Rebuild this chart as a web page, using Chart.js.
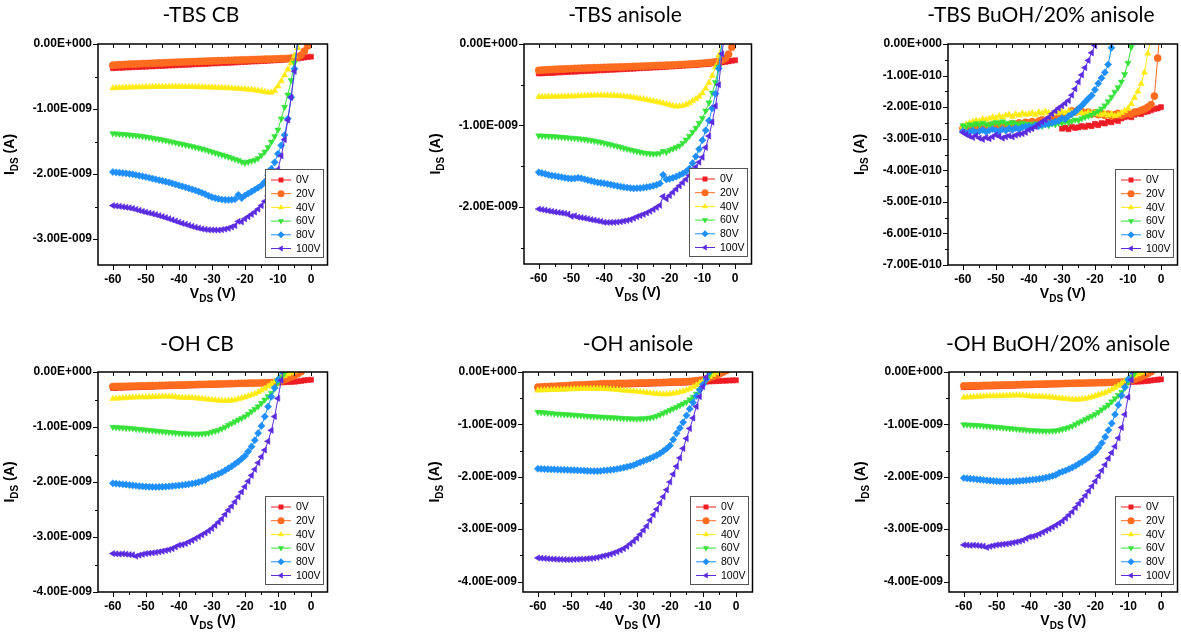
<!DOCTYPE html>
<html>
<head>
<meta charset="utf-8">
<script src="https://cdn.jsdelivr.net/npm/chart.js@4.4.1/dist/chart.umd.min.js"></script>
<style>
  html, body { margin: 0; padding: 0; background: #fff; }
  body { width: 1181px; height: 638px; position: relative; overflow: hidden; }
  canvas { position: absolute; }
</style>
</head>
<body>
<script>
// Output curves I_DS vs V_DS, one sweep per gate voltage. Currents in pA.

const vds = [
  -60, -59, -58, -57, -56, -55, -54, -53, -52, -51,
  -50, -49, -48, -47, -46, -45, -44, -43, -42, -41,
  -40, -39, -38, -37, -36, -35, -34, -33, -32, -31,
  -30, -29, -28, -27, -26, -25, -24, -23, -22, -21,
  -20, -19, -18, -17, -16, -15, -14, -13, -12, -11,
  -10, -9, -8, -7, -6, -5, -4, -3, -2, -1,
  0
];
// the 0V sweep of the BuOH/anisole TBS film starts at -30 V
const vdsFrom30 = vds.slice(30);

const gateLabels = ['0V', '20V', '40V', '60V', '80V', '100V'];

const vdsTicks = [-60, -50, -40, -30, -20, -10, 0];
const idsTicks2 = [0, -1000, -2000];
const idsTicks3 = [0, -1000, -2000, -3000];
const idsTicks4 = [0, -1000, -2000, -3000, -4000];
const idsTicksLow = [0, -100, -200, -300, -400, -500, -600, -700];

// -TBS, chlorobenzene
const tbsCb0 = [
  -372, -368, -366, -365, -361, -360, -357, -355, -353, -350,
  -348, -345, -344, -340, -338, -336, -333, -331, -330, -326,
  -324, -322, -320, -317, -315, -312, -310, -308, -306, -303,
  -300, -298, -296, -293, -291, -288, -286, -284, -281, -278,
  -276, -273, -270, -268, -265, -262, -260, -257, -254, -251,
  -248, -245, -242, -238, -235, -230, -224, -216, -208, -200,
  -195
];
const tbsCb20 = [
  -326, -322, -318, -316, -313, -311, -309, -306, -305, -302,
  -300, -298, -296, -293, -291, -290, -287, -285, -283, -281,
  -279, -277, -275, -273, -271, -270, -268, -266, -264, -262,
  -261, -259, -257, -255, -254, -252, -250, -249, -247, -245,
  -244, -242, -240, -239, -237, -236, -234, -232, -231, -229,
  -227, -225, -223, -221, -218, -212, -200, -172, -110, -30,
  60
];
const tbsCb40 = [
  -680, -676, -672, -670, -668, -667, -665, -664, -662, -662,
  -660, -660, -658, -657, -656, -656, -655, -655, -654, -655,
  -655, -656, -655, -657, -658, -659, -660, -662, -663, -665,
  -667, -669, -671, -673, -676, -678, -681, -684, -687, -691,
  -693, -698, -703, -710, -718, -727, -736, -744, -745, -720,
  -650, -570, -480, -390, -290, -180, -60, 60
];
const tbsCb60 = [
  -1376, -1380, -1385, -1388, -1392, -1398, -1402, -1408, -1412, -1420,
  -1428, -1437, -1446, -1455, -1464, -1474, -1484, -1495, -1507, -1519,
  -1530, -1541, -1552, -1563, -1575, -1588, -1600, -1613, -1626, -1643,
  -1660, -1675, -1690, -1705, -1720, -1737, -1755, -1772, -1790, -1812,
  -1830, -1812, -1800, -1785, -1760, -1711, -1660, -1590, -1505, -1420,
  -1320, -1150, -970, -780, -560, -290, 20
];
const tbsCb80 = [
  -1969, -1975, -1980, -1986, -1990, -1998, -2005, -2015, -2025, -2035,
  -2046, -2058, -2070, -2082, -2095, -2105, -2118, -2130, -2145, -2160,
  -2175, -2190, -2205, -2220, -2237, -2253, -2270, -2290, -2310, -2335,
  -2356, -2370, -2383, -2392, -2397, -2398, -2396, -2388, -2320, -2372,
  -2330, -2300, -2270, -2240, -2210, -2175, -2120, -2020, -1920, -1820,
  -1690, -1560, -1400, -1150, -820, -380, 40
];
const tbsCb100 = [
  -2485, -2492, -2498, -2505, -2512, -2520, -2530, -2545, -2560, -2574,
  -2588, -2600, -2612, -2625, -2640, -2655, -2670, -2688, -2705, -2724,
  -2742, -2758, -2773, -2790, -2805, -2820, -2832, -2845, -2853, -2858,
  -2861, -2862, -2862, -2857, -2848, -2835, -2815, -2795, -2730, -2735,
  -2690, -2655, -2620, -2585, -2540, -2485, -2420, -2340, -2240, -2100,
  -1930, -1720, -1470, -1170, -820, -420, 60
];

// -TBS, anisole
const tbsAn0 = [
  -362, -360, -357, -355, -354, -351, -349, -347, -345, -343,
  -341, -339, -337, -335, -333, -331, -329, -327, -325, -323,
  -321, -318, -316, -314, -312, -310, -308, -306, -304, -302,
  -299, -297, -295, -293, -291, -289, -287, -284, -282, -280,
  -277, -275, -272, -270, -267, -264, -262, -259, -256, -253,
  -250, -247, -244, -240, -236, -231, -226, -220, -213, -206,
  -200
];
const tbsAn20 = [
  -323, -320, -318, -315, -313, -311, -309, -307, -306, -304,
  -302, -300, -299, -297, -296, -294, -293, -291, -290, -289,
  -287, -286, -285, -283, -282, -281, -280, -278, -277, -275,
  -274, -272, -271, -269, -268, -266, -265, -263, -262, -260,
  -259, -257, -255, -253, -251, -249, -247, -245, -242, -239,
  -236, -232, -228, -224, -219, -213, -200, -175, -125, -40,
  50
];
const tbsAn40 = [
  -650, -648, -647, -646, -645, -645, -644, -643, -643, -642,
  -642, -640, -638, -636, -634, -632, -630, -630, -629, -629,
  -630, -631, -632, -634, -636, -638, -641, -645, -650, -656,
  -663, -670, -677, -685, -692, -700, -708, -717, -727, -738,
  -748, -757, -765, -764, -758, -744, -725, -700, -675, -645,
  -605, -545, -475, -390, -285, -140, 50
];
const tbsAn60 = [
  -1125, -1127, -1129, -1131, -1133, -1136, -1139, -1142, -1146, -1150,
  -1153, -1156, -1160, -1165, -1170, -1176, -1183, -1190, -1198, -1206,
  -1215, -1225, -1235, -1245, -1255, -1266, -1277, -1288, -1298, -1308,
  -1317, -1326, -1334, -1340, -1345, -1348, -1347, -1340, -1315, -1328,
  -1300, -1285, -1268, -1248, -1215, -1175, -1130, -1080, -1030, -970,
  -910, -820, -720, -600, -470, -280, 30
];
const tbsAn80 = [
  -1575, -1585, -1595, -1605, -1615, -1620, -1628, -1635, -1642, -1648,
  -1652, -1650, -1642, -1648, -1660, -1670, -1680, -1690, -1700, -1705,
  -1710, -1718, -1726, -1734, -1742, -1750, -1757, -1763, -1768, -1772,
  -1770, -1768, -1763, -1757, -1750, -1740, -1728, -1712, -1605, -1662,
  -1655, -1642, -1628, -1610, -1590, -1565, -1530, -1462, -1380, -1290,
  -1180, -1060, -940, -790, -610, -300, 30
];
const tbsAn100 = [
  -2025, -2032, -2040, -2048, -2055, -2062, -2068, -2074, -2080, -2088,
  -2115, -2108, -2125, -2130, -2138, -2146, -2155, -2162, -2170, -2178,
  -2188, -2190, -2190, -2188, -2185, -2180, -2173, -2165, -2155, -2138,
  -2120, -2105, -2090, -2072, -2052, -2030, -2005, -1980, -1870, -1900,
  -1860, -1820, -1780, -1740, -1700, -1660, -1615, -1565, -1510, -1450,
  -1390, -1270, -1130, -960, -760, -500, -120, 200
];

// -TBS, BuOH / 20% anisole (0V sweep paired with vdsFrom30)
const tbsBu0 = [
  -268, -265, -270, -262, -266, -264, -260, -263, -258, -260,
  -253, -257, -250, -252, -246, -248, -240, -244, -236, -232,
  -228, -232, -224, -220, -222, -216, -214, -210, -206, -204,
  -200
];
const tbsBu20 = [
  -268, -272, -265, -262, -268, -258, -262, -266, -260, -257,
  -262, -255, -260, -265, -258, -252, -256, -250, -254, -248,
  -250, -246, -252, -244, -240, -243, -238, -236, -240, -232,
  -228, -232, -224, -212, -216, -208, -214, -220, -216, -222,
  -218, -224, -220, -226, -222, -228, -224, -220, -226, -222,
  -218, -222, -216, -214, -210, -206, -200, -192, -165, -45,
  80
];
const tbsBu40 = [
  -262, -255, -250, -246, -242, -244, -238, -240, -236, -232,
  -235, -228, -232, -226, -224, -230, -222, -226, -220, -224,
  -222, -218, -224, -216, -220, -214, -218, -222, -215, -219,
  -214, -218, -212, -216, -220, -214, -218, -222, -216, -220,
  -218, -222, -224, -220, -226, -222, -228, -224, -218, -212,
  -205, -190, -170, -150, -126, -90, -30, 20
];
const tbsBu60 = [
  -258, -262, -255, -258, -252, -256, -250, -254, -258, -252,
  -248, -252, -246, -250, -254, -248, -252, -256, -250, -254,
  -253, -258, -252, -256, -260, -254, -258, -252, -255, -250,
  -250, -246, -248, -244, -240, -242, -236, -232, -228, -224,
  -218, -212, -205, -195, -182, -168, -152, -138, -120, -96,
  -60, -10, 40
];
const tbsBu80 = [
  -276, -282, -278, -274, -280, -276, -272, -278, -274, -270,
  -274, -276, -270, -274, -268, -272, -266, -270, -264, -262,
  -261, -264, -258, -260, -256, -255, -252, -250, -246, -243,
  -235, -238, -228, -222, -215, -205, -195, -184, -173, -163,
  -145, -125, -108, -90, -65, -12, 40
];
const tbsBu100 = [
  -280, -286, -292, -296, -290, -298, -302, -296, -300, -294,
  -288, -292, -298, -294, -291, -294, -289, -286, -284, -280,
  -272, -268, -262, -253, -246, -240, -232, -221, -212, -203,
  -196, -188, -179, -162, -142, -120, -98, -75, -52, -28,
  -5, 22
];

// -OH, chlorobenzene
const ohCb0 = [
  -290, -288, -286, -284, -282, -280, -278, -276, -275, -273,
  -271, -269, -267, -265, -263, -261, -259, -257, -255, -253,
  -251, -249, -247, -245, -243, -241, -239, -237, -235, -233,
  -231, -229, -227, -225, -223, -221, -219, -217, -215, -213,
  -211, -209, -207, -205, -203, -201, -199, -197, -195, -193,
  -191, -189, -186, -183, -180, -176, -170, -162, -153, -146,
  -140
];
const ohCb20 = [
  -265, -263, -262, -260, -259, -258, -256, -255, -254, -252,
  -250, -249, -247, -246, -244, -243, -241, -240, -238, -237,
  -235, -234, -232, -231, -229, -228, -226, -225, -223, -222,
  -220, -219, -217, -216, -214, -213, -211, -210, -208, -207,
  -205, -204, -203, -202, -200, -198, -196, -194, -191, -186,
  -175, -160, -140, -115, -90, -60, -30, 5
];
const ohCb40 = [
  -486, -482, -478, -474, -470, -466, -463, -460, -458, -457,
  -456, -454, -452, -450, -448, -446, -444, -445, -447, -452,
  -462, -464, -465, -467, -469, -474, -480, -486, -492, -498,
  -505, -511, -517, -523, -524, -522, -516, -508, -492, -475,
  -456, -437, -416, -395, -365, -334, -300, -261, -218, -170,
  -122, -90, -67, -40, -18, 10
];
const ohCb60 = [
  -1003, -1006, -1010, -1014, -1018, -1021, -1027, -1034, -1040, -1046,
  -1052, -1058, -1064, -1070, -1076, -1082, -1088, -1094, -1100, -1106,
  -1112, -1116, -1119, -1122, -1124, -1125, -1125, -1123, -1118, -1110,
  -1090, -1075, -1055, -1032, -1000, -965, -935, -902, -870, -840,
  -808, -765, -717, -672, -626, -565, -505, -444, -383, -300,
  -190, -100, -20, 60
];
const ohCb80 = [
  -2024, -2030, -2036, -2042, -2048, -2055, -2062, -2068, -2075, -2080,
  -2085, -2088, -2090, -2091, -2090, -2088, -2085, -2080, -2074, -2068,
  -2062, -2055, -2048, -2040, -2030, -2018, -2002, -1985, -1965, -1925,
  -1903, -1880, -1852, -1824, -1790, -1751, -1715, -1672, -1629, -1578,
  -1526, -1445, -1356, -1240, -1112, -980, -810, -630, -450, -290,
  -140, 20
];
const ohCb100 = [
  -3301, -3305, -3310, -3306, -3312, -3319, -3325, -3350, -3330, -3315,
  -3301, -3295, -3288, -3280, -3270, -3258, -3245, -3230, -3210, -3180,
  -3149, -3140, -3119, -3090, -3060, -3027, -2995, -2960, -2925, -2887,
  -2845, -2790, -2730, -2670, -2590, -2511, -2440, -2360, -2270, -2180,
  -2085, -1985, -1880, -1770, -1650, -1540, -1420, -1260, -1060, -810,
  -480, -150, 150
];

// -OH, anisole
const ohAn0 = [
  -318, -315, -312, -309, -306, -303, -300, -298, -295, -292,
  -289, -286, -283, -280, -277, -274, -271, -268, -264, -260,
  -255, -253, -250, -248, -246, -243, -240, -238, -235, -232,
  -230, -228, -226, -224, -222, -220, -218, -216, -214, -212,
  -210, -208, -206, -204, -202, -200, -198, -196, -193, -190,
  -186, -183, -180, -177, -174, -171, -168, -165, -162, -160,
  -159
];
const ohAn20 = [
  -287, -284, -281, -278, -275, -272, -269, -266, -263, -260,
  -255, -252, -249, -246, -243, -240, -237, -234, -231, -227,
  -223, -222, -221, -220, -219, -218, -216, -215, -213, -212,
  -210, -208, -207, -206, -204, -203, -202, -201, -199, -197,
  -191, -190, -188, -186, -184, -182, -178, -172, -165, -158,
  -150, -130, -110, -85, -60, -35, -5, 25
];
const ohAn40 = [
  -350, -347, -345, -342, -340, -338, -336, -334, -332, -330,
  -325, -323, -322, -320, -319, -318, -318, -317, -318, -318,
  -320, -324, -328, -332, -337, -343, -350, -356, -362, -366,
  -372, -380, -388, -395, -402, -408, -414, -420, -425, -424,
  -418, -410, -398, -383, -365, -345, -318, -287, -250, -211,
  -170, -128, -90, -55, -20, 15
];
const ohAn60 = [
  -764, -770, -776, -782, -787, -796, -800, -805, -810, -812,
  -815, -820, -825, -830, -835, -841, -846, -850, -854, -857,
  -860, -864, -868, -871, -875, -879, -883, -887, -890, -892,
  -893, -891, -888, -882, -874, -862, -840, -815, -785, -757,
  -728, -700, -670, -638, -606, -574, -526, -479, -418, -350,
  -245, -150, -50, 50
];
const ohAn80 = [
  -1847, -1850, -1853, -1856, -1858, -1860, -1863, -1866, -1868, -1870,
  -1872, -1875, -1878, -1880, -1884, -1888, -1890, -1892, -1892, -1890,
  -1880, -1876, -1870, -1862, -1852, -1840, -1825, -1810, -1795, -1780,
  -1748, -1725, -1700, -1675, -1648, -1620, -1590, -1555, -1510, -1462,
  -1404, -1290, -1170, -1070, -960, -830, -705, -580, -460, -340,
  -240, -140, 10
];
const ohAn100 = [
  -3550, -3555, -3560, -3565, -3570, -3572, -3575, -3578, -3580, -3582,
  -3580, -3578, -3575, -3572, -3570, -3565, -3560, -3552, -3540, -3525,
  -3510, -3495, -3475, -3455, -3430, -3400, -3370, -3330, -3280, -3230,
  -3170, -3100, -3020, -2940, -2830, -2725, -2620, -2500, -2380, -2250,
  -2100, -1950, -1800, -1640, -1460, -1270, -1080, -880, -660, -470,
  -280, -100, 80
];

// series styling, one entry per gate voltage
const gateColors = ['#ee1c25', '#ff6c1f', '#ffeb14', '#36e23a', '#1f8fff', '#5a2be0'];
const markerStyles = ['rect', 'circle', 'triangle', 'triangle', 'rectRot', 'triangle'];
const markerRotations = [0, 0, 0, 180, 0, 270];

const tickFont = { family: 'Liberation Sans, Arial, sans-serif', size: 12, weight: 'bold' };

// pA -> "-1.00E-009" style labels
function sciLabel(pa) {
  const s = (pa * 1e-12).toExponential(2);
  const [m, e] = s.split('e');
  const n = parseInt(e, 10);
  return m + 'E' + (n < 0 ? '-' : '+') + String(Math.abs(n)).padStart(3, '0');
}

function drawMarker(ctx, style, rot, x, y, r) {
  ctx.beginPath();
  if (style === 'circle') {
    ctx.arc(x, y, r, 0, Math.PI * 2);
  } else if (style === 'rect') {
    const s = r * Math.SQRT1_2;
    ctx.rect(x - s, y - s, 2 * s, 2 * s);
  } else if (style === 'rectRot') {
    ctx.moveTo(x - r, y); ctx.lineTo(x, y - r); ctx.lineTo(x + r, y); ctx.lineTo(x, y + r);
    ctx.closePath();
  } else {
    const a = rot * Math.PI / 180;
    for (let k = 0; k < 3; k++) {
      const ang = a + k * Math.PI * 2 / 3;
      const px = x + Math.sin(ang) * r, py = y - Math.cos(ang) * r;
      if (k === 0) ctx.moveTo(px, py); else ctx.lineTo(px, py);
    }
    ctx.closePath();
  }
  ctx.fill();
}

// label with a subscript part, e.g. I + DS + " (A)"
function subText(ctx, parts, cx, cy) {
  const big = 'bold 14px Liberation Sans, Arial, sans-serif';
  const small = 'bold 10px Liberation Sans, Arial, sans-serif';
  ctx.font = big; const w0 = ctx.measureText(parts[0]).width;
  const w2 = ctx.measureText(parts[2]).width;
  ctx.font = small; const w1 = ctx.measureText(parts[1]).width;
  let x = cx - (w0 + w1 + w2) / 2;
  ctx.textAlign = 'left'; ctx.textBaseline = 'alphabetic';
  ctx.font = big; ctx.fillText(parts[0], x, cy + 5); x += w0;
  ctx.font = small; ctx.fillText(parts[1], x, cy + 9); x += w1;
  ctx.font = big; ctx.fillText(parts[2], x, cy + 5);
}

// frame, minor ticks, titles and the in-plot legend
const panelDecor = {
  id: 'panel',
  afterDraw(chart, args, o) {
    const ctx = chart.ctx, a = chart.chartArea;
    const xs = chart.scales.x, ys = chart.scales.y;
    ctx.save();
    ctx.strokeStyle = '#000';
    ctx.lineWidth = 1.5;
    ctx.strokeRect(a.left, a.top, a.right - a.left, a.bottom - a.top);

    ctx.lineWidth = 1;
    ctx.beginPath();
    for (let v = -60; v <= 0; v += 5) {
      const px = Math.round(xs.getPixelForValue(v)) + 0.5;
      const len = v % 10 === 0 ? 5 : 3;
      ctx.moveTo(px, a.bottom); ctx.lineTo(px, a.bottom + len);
      ctx.moveTo(px, a.top); ctx.lineTo(px, a.top + 4);
    }
    for (let v = 0; v >= ys.min; v -= o.minorStep) {
      const py = Math.round(ys.getPixelForValue(v)) + 0.5;
      const len = Math.round(v / o.minorStep) % 2 === 0 ? 5 : 3;
      ctx.moveTo(a.left - len, py); ctx.lineTo(a.left, py);
    }
    ctx.stroke();

    // legend box
    const lw = 58, lh = 88;
    const lx = Math.round(a.right - 5 - lw), ly = Math.round(a.bottom - 8 - lh);
    ctx.fillStyle = '#fff';
    ctx.fillRect(lx, ly, lw, lh);
    ctx.strokeStyle = '#555';
    ctx.strokeRect(lx + 0.5, ly + 0.5, lw, lh);
    ctx.font = '10.5px Liberation Sans, Arial, sans-serif';
    ctx.textBaseline = 'middle';
    ctx.textAlign = 'left';
    chart.data.datasets.forEach((ds, i) => {
      const cy = ly + 11 + i * 13.7;
      ctx.strokeStyle = ds.borderColor;
      ctx.beginPath(); ctx.moveTo(lx + 6, cy); ctx.lineTo(lx + 26, cy); ctx.stroke();
      ctx.fillStyle = ds.borderColor;
      drawMarker(ctx, markerStyles[i], markerRotations[i], lx + 16, cy, 3.5);
      ctx.fillStyle = '#000';
      ctx.fillText(ds.label, lx + 31, cy + 0.5);
    });

    // panel title
    ctx.fillStyle = '#000';
    ctx.font = '21px Lato, sans-serif';
    ctx.textAlign = 'center';
    ctx.textBaseline = 'middle';
    ctx.fillText(o.title, o.titleX, o.titleY);

    // axis titles
    subText(ctx, ['V', 'DS', ' (V)'], (a.left + a.right) / 2, a.bottom + 28);
    ctx.save();
    ctx.translate(a.left - 84, (a.top + a.bottom) / 2);
    ctx.rotate(-Math.PI / 2);
    subText(ctx, ['I', 'DS', ' (A)'], 0, -5);
    ctx.restore();
    ctx.restore();
  }
};

const panels = [
  { title: '-TBS CB', titleX: 201, titleY: 15, area: { l: 98, t: 44, r: 330, b: 265 },
    yMin: -3400, yTicks: idsTicks3, minorStep: 500,
    series: [tbsCb0, tbsCb20, tbsCb40, tbsCb60, tbsCb80, tbsCb100],
    xs: [vds, vds, vds, vds, vds, vds] },
  { title: '-TBS anisole', titleX: 625, titleY: 15, area: { l: 524, t: 44, r: 754, b: 264 },
    yMin: -2700, yTicks: idsTicks2, minorStep: 500,
    series: [tbsAn0, tbsAn20, tbsAn40, tbsAn60, tbsAn80, tbsAn100],
    xs: [vds, vds, vds, vds, vds, vds] },
  { title: '-TBS BuOH/20% anisole', titleX: 1041, titleY: 15, area: { l: 948, t: 44, r: 1180, b: 265 },
    yMin: -700, yTicks: idsTicksLow, minorStep: 50,
    series: [tbsBu0, tbsBu20, tbsBu40, tbsBu60, tbsBu80, tbsBu100],
    xs: [vdsFrom30, vds, vds, vds, vds, vds] },
  { title: '-OH CB', titleX: 197, titleY: 344, area: { l: 98, t: 372, r: 330, b: 592 },
    yMin: -4000, yTicks: idsTicks4, minorStep: 500,
    series: [ohCb0, ohCb20, ohCb40, ohCb60, ohCb80, ohCb100],
    xs: [vds, vds, vds, vds, vds, vds] },
  { title: '-OH anisole', titleX: 638, titleY: 344, area: { l: 523, t: 372, r: 755, b: 592 },
    yMin: -4200, yTicks: idsTicks4, minorStep: 500,
    series: [ohAn0, ohAn20, ohAn40, ohAn60, ohAn80, ohAn100],
    xs: [vds, vds, vds, vds, vds, vds] },
  // the BuOH/anisole -OH film gave the same sweeps as the CB one
  { title: '-OH BuOH/20% anisole', titleX: 1058, titleY: 344, area: { l: 949, t: 372, r: 1180, b: 592 },
    yMin: -4200, yTicks: idsTicks4, minorStep: 500,
    series: [ohCb0, ohCb20, ohCb40, ohCb60, ohCb80, ohCb100],
    xs: [vds, vds, vds, vds, vds, vds] }
];

const margin = { left: 98, top: 44, right: 2, bottom: 46 };

panels.forEach(p => {
  const w = p.area.r - p.area.l + margin.left + margin.right;
  const h = p.area.b - p.area.t + margin.top + margin.bottom;
  const ox = p.area.l - margin.left, oy = p.area.t - margin.top;
  const canvas = document.createElement('canvas');
  canvas.width = w; canvas.height = h;
  canvas.style.left = ox + 'px';
  canvas.style.top = oy + 'px';
  canvas.style.width = w + 'px';
  canvas.style.height = h + 'px';
  document.body.appendChild(canvas);

  new Chart(canvas, {
    type: 'line',
    data: {
      datasets: p.series.map((ys, i) => ({
        label: gateLabels[i],
        data: ys.map((y, k) => ({ x: p.xs[i][k], y: y })),
        borderColor: gateColors[i],
        backgroundColor: gateColors[i],
        borderWidth: 1,
        pointStyle: markerStyles[i],
        pointRotation: markerRotations[i],
        pointRadius: 3.6,
        pointBackgroundColor: gateColors[i],
        pointBorderColor: gateColors[i],
        pointBorderWidth: 0.5,
        tension: 0,
        order: 5 - i
      }))
    },
    options: {
      responsive: false,
      animation: false,
      events: [],
      layout: { padding: { left: 0, top: margin.top, right: margin.right, bottom: 0 } },
      plugins: {
        legend: { display: false },
        tooltip: { enabled: false },
        panel: { title: p.title, titleX: p.titleX - ox, titleY: p.titleY - oy, minorStep: p.minorStep }
      },
      scales: {
        x: {
          type: 'linear', min: -64.5, max: 5,
          afterFit: s => { s.height = margin.bottom; },
          afterBuildTicks: s => { s.ticks = vdsTicks.map(v => ({ value: v })); },
          grid: { display: false, drawTicks: false },
          border: { display: false },
          ticks: { padding: 7, font: tickFont, color: '#000', autoSkip: false, maxRotation: 0,
                   callback: v => String(v) }
        },
        y: {
          type: 'linear', min: p.yMin, max: 0,
          afterFit: s => { s.width = margin.left; },
          afterBuildTicks: s => { s.ticks = p.yTicks.map(v => ({ value: v })); },
          grid: { display: false, drawTicks: false },
          border: { display: false },
          ticks: { padding: 6, font: tickFont, color: '#000', autoSkip: false,
                   callback: v => sciLabel(v) }
        }
      }
    },
    plugins: [panelDecor]
  });
});
</script>
</body>
</html>
